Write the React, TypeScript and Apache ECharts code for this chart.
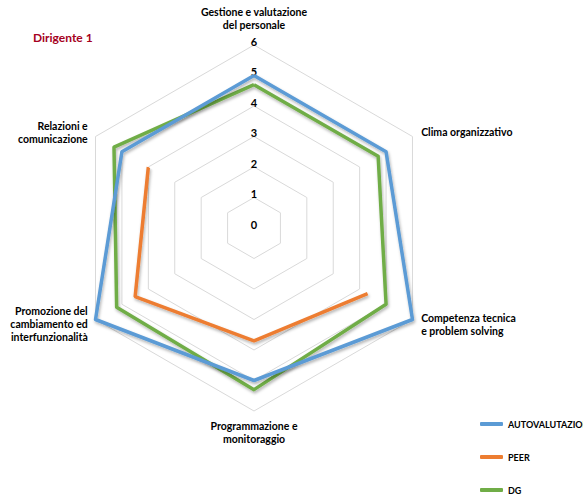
import React, { useEffect, useRef } from "react";
import * as echarts from "echarts";

// Axes in clockwise order starting from the top
const axesCW = [
  "Gestione e valutazione\ndel personale",
  "Clima organizzativo",
  "Competenza tecnica\ne problem solving",
  "Programmazione e\nmonitoraggio",
  "Promozione del\ncambiamento ed\ninterfunzionalità",
  "Relazioni e\ncomunicazione",
];
const autovalutazione = [5, 5, 6, 5, 6, 5];
const peer: (number | null)[] = [null, null, 4.3, 3.7, 4.5, 4];
const dg = [4.7, 4.7, 5, 5.3, 5.2, 5.3];
const seriesNames = ["AUTOVALUTAZIONE", "PEER", "DG"];
const colors = ["#5B9BD5", "#ED7D31", "#70AD47"];
const title = "Dirigente 1";

// ECharts radar goes counter-clockwise: reorder [0,5,4,3,2,1]
const ccwIdx = [0, 5, 4, 3, 2, 1];
const nameGaps = [14, 10, 10, 8, 9, 9];

export default function App() {
  const ref = useRef<HTMLDivElement>(null);
  useEffect(() => {
    if (!ref.current) return;
    const chart = echarts.init(ref.current, null, { renderer: "svg" });
    const center = [254, 228];
    const radius = 183;
    const font = "Lato, 'Liberation Sans', sans-serif";
    const shadow = {
      shadowColor: "rgba(0,0,0,0.3)",
      shadowBlur: 3,
      shadowOffsetX: 1,
      shadowOffsetY: 2,
    };
    chart.setOption({
      animation: false,
      title: {
        text: title,
        left: 28,
        top: 26,
        textStyle: { color: "#A50021", fontSize: 12, fontWeight: "bold", fontFamily: font },
      },
      legend: {
        orient: "vertical",
        left: 480,
        top: 419,
        padding: 0,
        itemGap: 23,
        itemWidth: 23,
        itemHeight: 4,
        icon: "roundRect",
        data: seriesNames,
        textStyle: { fontSize: 9, fontWeight: "bold", color: "#000", fontFamily: font, lineHeight: 10 },
      },
      radar: {
        center,
        radius,
        shape: "polygon",
        splitNumber: 6,
        startAngle: 90,
        axisLine: { show: false },
        axisTick: { show: false },
        splitArea: { show: false },
        splitLine: { lineStyle: { color: "#D9D9D9", width: 1 } },
        axisLabel: { show: false },
        axisName: {
          color: "#000",
          fontSize: 10.5,
          fontWeight: "bold",
          fontFamily: font,
          lineHeight: 13,
        },
        indicator: ccwIdx.map((i, k) => ({
          name: axesCW[i],
          min: 0,
          max: 6,
          nameGap: nameGaps[i],
          ...(k === 0
            ? {
                axisLabel: {
                  show: true,
                  color: "#000",
                  fontSize: 11,
                  fontWeight: "bold",
                  fontFamily: font,
                  margin: 0,
                  align: "center",
                  verticalAlign: "bottom",
                  lineHeight: 8,
                },
              }
            : {}),
        })),
      },
      polar: { center, radius },
      angleAxis: {
        type: "category",
        data: axesCW,
        startAngle: 90,
        clockwise: true,
        boundaryGap: false,
        show: false,
      },
      radiusAxis: { min: 0, max: 6, show: false },
      series: [
        {
          type: "radar",
          name: seriesNames[0],
          symbol: "none",
          color: colors[0],
          lineStyle: { color: colors[0], width: 3.5, ...shadow },
          data: [{ value: ccwIdx.map((i) => autovalutazione[i]), name: seriesNames[0] }],
          z: 3,
        },
        {
          type: "line",
          name: seriesNames[1],
          coordinateSystem: "polar",
          showSymbol: false,
          symbol: "none",
          connectNulls: false,
          color: colors[1],
          lineStyle: { color: colors[1], width: 3.5, ...shadow },
          data: peer.map((v) => (v == null ? "-" : v)),
          z: 2,
        },
        {
          type: "radar",
          name: seriesNames[2],
          symbol: "none",
          color: colors[2],
          lineStyle: { color: colors[2], width: 3.5, ...shadow },
          data: [{ value: ccwIdx.map((i) => dg[i]), name: seriesNames[2] }],
          z: 2,
        },
      ],
    });
    return () => chart.dispose();
  }, []);
  return (
    <div
      ref={ref}
      style={{ position: "absolute", left: 0, top: 0, width: 583, height: 503 }}
    />
  );
}
